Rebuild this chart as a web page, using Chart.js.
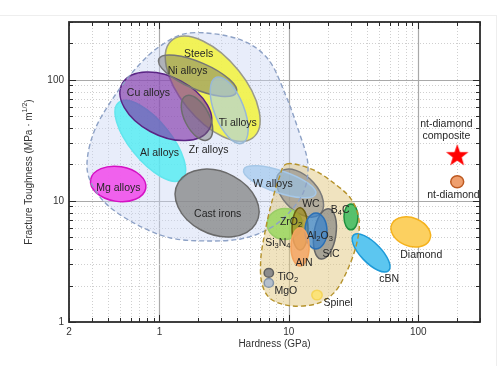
<!DOCTYPE html>
<html>
<head>
<meta charset="utf-8">
<title>Hardness vs fracture toughness</title>
<script src="https://cdn.jsdelivr.net/npm/chart.js@4.4.1/dist/chart.umd.min.js"></script>
<style>
    html, body { margin: 0; padding: 0; background: #fff; }
    #wrap { position: relative; width: 498px; height: 366px; overflow: hidden; }
    #wrap .edge { position: absolute; left: 0; top: 15px; width: 496px; height: 360px; border-top: 1px solid #eeeeee; border-right: 1px solid #eeeeee; }
    canvas { position: absolute; left: 0; top: 0; }
</style>
</head>
<body>
<div id="wrap"><div class="edge"></div><canvas id="chart" width="498" height="366"></canvas></div>
<script>
// material families, in drawing order (back to front)
var materials = ['Al alloys', 'Steels', 'Cu alloys', 'Ni alloys', 'Ti alloys', 'Zr alloys', 'Mg alloys', 'Cast irons',
    'WC', 'W alloys', 'SiC', 'Si3N4', 'ZrO2', 'Al2O3', 'AlN', 'B4C', 'TiO2', 'MgO', 'Spinel', 'cBN', 'Diamond', 'nt-diamond'];
// centre of each bubble: hardness (GPa), fracture toughness (MPa m^1/2)
var hardness = [0.85, 2.58, 1.12, 1.97, 3.46, 1.95, 0.48, 2.79,
    12.2, 8.5, 19.0, 9.3, 12.2, 16.2, 12.2, 30.2, 7.0, 7.0, 16.5, 43.2, 87.5, 200];
var toughness = [31.3, 84.3, 60.4, 108, 56, 48.5, 13.8, 9.6,
    11.6, 14.4, 5.34, 6.45, 5.87, 5.65, 4.17, 7.38, 2.54, 2.10, 1.67, 3.72, 5.54, 14.4];
// half spread of each bubble along its long / short axis (decades) and its tilt (deg, + = rising)
var spreadLong = [0.40, 0.51, 0.385, 0.33, 0.29, 0.20, 0.216, 0.344,
    0.232, 0.296, 0.21, 0.136, 0.174, 0.149, 0.157, 0.107, 0.036, 0.036, 0.04, 0.20, 0.16, 0.05];
var spreadShort = [0.16, 0.25, 0.24, 0.11, 0.115, 0.096, 0.144, 0.255,
    0.136, 0.09, 0.085, 0.128, 0.062, 0.085, 0.07, 0.054, 0.036, 0.036, 0.04, 0.08, 0.116, 0.05];
var tilt = [-53, -53, -30, -25, -70, -65, -10, -30,
    -50, -20, 82, 0, 90, 90, 90, 90, 0, 0, 0, -48, -25, 0];

// nt-diamond composite
var compositeHardness = [200];
var compositeToughness = [24.0];

// outline of the metals and ceramics fields: [hardness, toughness]
var metalsField = [[1.74, 244], [4.03, 218], [6.87, 149], [9.48, 73.8], [11.9, 37.9], [14.0, 20.6], [13.1, 12.1],
    [10.0, 7.96], [7.0, 5.87], [4.25, 4.85], [2.27, 4.67], [1.22, 4.94], [0.675, 6.34], [0.395, 9.27],
    [0.292, 14.6], [0.277, 22.2], [0.319, 39.4], [0.44, 71.0], [0.652, 123], [1.02, 191]];
var ceramicsField = [[9.65, 20.2], [14.8, 18.4], [21.2, 14.6], [30.2, 10.4], [34.9, 6.84], [33.1, 4.25],
    [27.7, 2.54], [22.3, 1.74], [16.2, 1.41], [10.4, 1.36], [7.25, 1.55], [6.18, 2.10], [6.07, 3.32],
    [6.52, 5.44], [7.25, 9.09], [8.37, 15.2]];

// axis ticks
var xRange = [0.2, 300];
var yRange = [1, 300];
var xLabelValues = [0.2, 1, 10, 100];
var xTickLabels = ['2', '1', '10', '100'];
var yLabelValues = [1, 10, 100];
var yTickLabels = ['1', '10', '100'];

(function (window, document) {
    'use strict';

    var FONT = '"Liberation Sans", Arial, sans-serif';

    var bubbleStyle = {
        'Al alloys':  ['rgba(80,236,242,0.8)', '#62e6ee'],
        'Steels':     ['rgba(242,242,70,0.9)', '#9a9a8a'],
        'Cu alloys':  ['rgba(125,45,165,0.62)', '#5a2484'],
        'Ni alloys':  ['rgba(105,105,105,0.45)', '#767676'],
        'Ti alloys':  ['rgba(170,205,235,0.6)', '#98b8d6'],
        'Zr alloys':  ['rgba(110,110,110,0.45)', '#6d6d6d'],
        'Mg alloys':  ['rgba(240,90,236,0.95)', '#d412c4'],
        'Cast irons': ['rgba(128,128,128,0.72)', '#6a6a6a'],
        'WC':         ['rgba(130,130,130,0.55)', '#7a7a7a'],
        'W alloys':   ['rgba(150,195,235,0.6)', '#a6c8e8'],
        'SiC':        ['rgba(128,128,128,0.65)', '#666666'],
        'Si3N4':      ['rgba(150,215,90,0.8)', '#98cc66'],
        'ZrO2':       ['rgba(160,140,30,0.75)', '#6e6010'],
        'Al2O3':      ['rgba(50,130,210,0.7)', '#2a6fb5'],
        'AlN':        ['rgba(245,165,100,0.85)', '#f4a35e'],
        'B4C':        ['rgba(70,190,100,0.9)', '#1f8f3f'],
        'TiO2':       ['#8c8c8c', '#5e5e5e'],
        'MgO':        ['#b4bfcc', '#8494a8'],
        'Spinel':     ['#fbe37a', '#f5d55a'],
        'cBN':        ['#5cc6f0', '#1e9ad8'],
        'Diamond':    ['#fcd060', '#f5b21c'],
        'nt-diamond': ['#ef9f6e', '#bd5a22']
    };

    // where each name is written: [text, hardness, toughness]
    var labelAnchors = [
        ['Steels', 2.01, 164], ['Ni alloys', 1.65, 119], ['Cu alloys', 0.822, 78.1], ['Ti alloys', 4.03, 44.1],
        ['Zr alloys', 2.40, 26.4], ['Al alloys', 1.0, 24.9], ['Mg alloys', 0.481, 12.8], ['Cast irons', 2.82, 7.81],
        ['W alloys', 7.52, 13.8], ['WC', 14.8, 9.44], ['B4C', 24.9, 8.43], ['ZrO2', 10.4, 6.70],
        ['Al2O3', 17.4, 5.14], ['Si3N4', 8.22, 4.50], ['SiC', 21.2, 3.65], ['AlN', 13.1, 3.07],
        ['TiO2', 9.82, 2.35], ['MgO', 9.48, 1.80], ['Spinel', 24.0, 1.44], ['cBN', 59.6, 2.27],
        ['Diamond', 105.5, 3.58], ['nt-diamond', 187, 11.2],
        ['nt-diamond', 165, 43.3], ['composite', 165, 34.4]
    ];

    var starImg = (function () {
        var c = document.createElement('canvas');
        c.width = 26;
        c.height = 26;
        var g = c.getContext('2d');
        g.beginPath();
        for (var i = 0; i < 10; i++) {
            var r = i % 2 ? 4.7 : 11.8;
            var a = -Math.PI / 2 + i * Math.PI / 5;
            g.lineTo(13 + r * Math.cos(a), 14 + r * Math.sin(a));
        }
        g.closePath();
        g.fillStyle = '#ff0000';
        g.fill();
        return c;
    })();

    function logSteps(min, max) {
        var out = [];
        for (var e = -1; e <= 2; e++) {
            for (var m = 1; m < 10; m++) {
                var v = m * Math.pow(10, e);
                if (v >= min * 0.999 && v <= max * 1.001) out.push({ v: v, major: m === 1 });
            }
        }
        return out;
    }

    function fieldPath(ctx, pts) {
        var n = pts.length;
        ctx.beginPath();
        ctx.moveTo(pts[0].x, pts[0].y);
        for (var i = 0; i < n; i++) {
            var p0 = pts[(i - 1 + n) % n], p1 = pts[i], p2 = pts[(i + 1) % n], p3 = pts[(i + 2) % n];
            ctx.bezierCurveTo(p1.x + (p2.x - p0.x) / 6, p1.y + (p2.y - p0.y) / 6,
                p2.x - (p3.x - p1.x) / 6, p2.y - (p3.y - p1.y) / 6, p2.x, p2.y);
        }
        ctx.closePath();
    }

    function drawFormula(ctx, text, x, y, size) {
        var parts = text.split(/(\d)/).filter(function (s) { return s.length; });
        var widths = parts.map(function (p) {
            ctx.font = (/^\d$/.test(p) ? size * 0.72 : size) + 'px ' + FONT;
            return ctx.measureText(p).width;
        });
        var total = widths.reduce(function (a, b) { return a + b; }, 0);
        var cx = x - total / 2;
        ctx.textAlign = 'left';
        ctx.textBaseline = 'middle';
        parts.forEach(function (p, i) {
            var sub = /^\d$/.test(p);
            ctx.font = (sub ? size * 0.72 : size) + 'px ' + FONT;
            ctx.fillText(p, cx, sub ? y + size * 0.3 : y);
            cx += widths[i];
        });
    }

    var mapPlugin = {
        id: 'materialMap',
        beforeDatasetsDraw: function (chart) {
            var ctx = chart.ctx, area = chart.chartArea, xs = chart.scales.x, ys = chart.scales.y;
            var sx = xs.getPixelForValue(10) - xs.getPixelForValue(1);
            var sy = ys.getPixelForValue(1) - ys.getPixelForValue(10);
            var toPx = function (p) { return { x: xs.getPixelForValue(p[0]), y: ys.getPixelForValue(p[1]) }; };

            ctx.save();
            ctx.beginPath();
            ctx.rect(area.left, area.top, area.right - area.left, area.bottom - area.top);
            ctx.clip();

            // grid
            logSteps(xRange[0], xRange[1]).forEach(function (t) {
                var px = Math.round(xs.getPixelForValue(t.v)) + 0.5;
                ctx.beginPath();
                ctx.setLineDash(t.major ? [] : [1, 2]);
                ctx.strokeStyle = t.major ? '#a9a9a9' : '#cfcfcf';
                ctx.lineWidth = t.major ? 1.2 : 1;
                ctx.moveTo(px, area.top);
                ctx.lineTo(px, area.bottom);
                ctx.stroke();
            });
            logSteps(yRange[0], yRange[1]).forEach(function (t) {
                var py = Math.round(ys.getPixelForValue(t.v)) + 0.5;
                ctx.beginPath();
                ctx.setLineDash(t.major ? [] : [1, 2]);
                ctx.strokeStyle = t.major ? '#a9a9a9' : '#cfcfcf';
                ctx.lineWidth = t.major ? 1.2 : 1;
                ctx.moveTo(area.left, py);
                ctx.lineTo(area.right, py);
                ctx.stroke();
            });
            ctx.setLineDash([]);

            var metalPts = metalsField.map(toPx);
            var ceramicPts = ceramicsField.map(toPx);

            fieldPath(ctx, metalPts);
            ctx.fillStyle = 'rgba(200,212,242,0.42)';
            ctx.fill();
            fieldPath(ctx, ceramicPts);
            ctx.fillStyle = 'rgba(226,200,128,0.5)';
            ctx.fill();

            var meta = chart.getDatasetMeta(0);
            materials.forEach(function (name, i) {
                var pt = meta.data[i];
                ctx.save();
                ctx.translate(pt.x, pt.y);
                ctx.scale(sx, -sy);
                ctx.rotate(tilt[i] * Math.PI / 180);
                ctx.beginPath();
                ctx.ellipse(0, 0, spreadLong[i], spreadShort[i], 0, 0, Math.PI * 2);
                ctx.restore();
                ctx.fillStyle = bubbleStyle[name][0];
                ctx.fill();
                ctx.lineWidth = 1.5;
                ctx.strokeStyle = bubbleStyle[name][1];
                ctx.stroke();
            });

            ctx.setLineDash([5, 3]);
            ctx.lineWidth = 1.4;
            fieldPath(ctx, metalPts);
            ctx.strokeStyle = '#8ea2c6';
            ctx.stroke();
            fieldPath(ctx, ceramicPts);
            ctx.strokeStyle = '#b5922a';
            ctx.stroke();
            ctx.restore();
        },
        afterDatasetsDraw: function (chart) {
            var ctx = chart.ctx, area = chart.chartArea, xs = chart.scales.x, ys = chart.scales.y;

            ctx.save();
            ctx.fillStyle = '#262626';
            labelAnchors.forEach(function (l) {
                drawFormula(ctx, l[0], xs.getPixelForValue(l[1]), ys.getPixelForValue(l[2]), 10.5);
            });

            // frame with inward ticks on all four sides
            ctx.strokeStyle = '#2b2b2b';
            ctx.lineWidth = 1;
            logSteps(xRange[0], xRange[1]).forEach(function (t) {
                var px = Math.round(xs.getPixelForValue(t.v)) + 0.5;
                var len = t.major ? 7 : 4;
                ctx.beginPath();
                ctx.moveTo(px, area.bottom);
                ctx.lineTo(px, area.bottom - len);
                ctx.moveTo(px, area.top);
                ctx.lineTo(px, area.top + len);
                ctx.stroke();
            });
            logSteps(yRange[0], yRange[1]).forEach(function (t) {
                var py = Math.round(ys.getPixelForValue(t.v)) + 0.5;
                var len = t.major ? 7 : 4;
                ctx.beginPath();
                ctx.moveTo(area.left, py);
                ctx.lineTo(area.left + len, py);
                ctx.moveTo(area.right, py);
                ctx.lineTo(area.right - len, py);
                ctx.stroke();
            });
            ctx.lineWidth = 1.8;
            ctx.strokeRect(area.left, area.top, area.right - area.left, area.bottom - area.top);

            // y title with superscript
            ctx.translate(29, (area.top + area.bottom) / 2);
            ctx.rotate(-Math.PI / 2);
            ctx.fillStyle = '#333';
            ctx.textBaseline = 'middle';
            ctx.textAlign = 'left';
            var main = 'Fracture Toughness (MPa \u00b7 m', sup = '1/2', tail = ')';
            ctx.font = '10px ' + FONT;
            var w1 = ctx.measureText(main).width, w3 = ctx.measureText(tail).width;
            ctx.font = '7px ' + FONT;
            var w2 = ctx.measureText(sup).width;
            var x0 = -(w1 + w2 + w3) / 2;
            ctx.font = '10px ' + FONT;
            ctx.fillText(main, x0, 0);
            ctx.fillText(tail, x0 + w1 + w2, 0);
            ctx.font = '7px ' + FONT;
            ctx.fillText(sup, x0 + w1, -3.5);
            ctx.restore();
        }
    };

    var points = materials.map(function (m, i) { return { x: hardness[i], y: toughness[i] }; });
    var star = compositeHardness.map(function (h, i) { return { x: h, y: compositeToughness[i] }; });

    new Chart(document.getElementById('chart').getContext('2d'), {
        type: 'scatter',
        data: {
            datasets: [
                { label: 'materials', data: points, pointRadius: 0, pointHoverRadius: 0 },
                { label: 'nt-diamond composite', data: star, pointStyle: starImg, pointRadius: 12 }
            ]
        },
        options: {
            responsive: false,
            animation: false,
            devicePixelRatio: 1,
            events: [],
            layout: { padding: { top: 22, right: 18, left: 0, bottom: 0 } },
            plugins: { legend: { display: false }, tooltip: { enabled: false } },
            scales: {
                x: {
                    type: 'logarithmic',
                    min: xRange[0],
                    max: xRange[1],
                    afterFit: function (s) { s.height = 44; },
                    afterBuildTicks: function (s) { s.ticks = xLabelValues.map(function (v) { return { value: v }; }); },
                    grid: { display: false, drawTicks: false },
                    border: { display: false },
                    ticks: {
                        autoSkip: false, maxRotation: 0, padding: 4, color: '#333',
                        font: { family: FONT, size: 10 },
                        callback: function (v, i) { return xTickLabels[i]; }
                    },
                    title: {
                        display: true, text: 'Hardness (GPa)', color: '#333',
                        font: { family: FONT, size: 10 },
                        padding: { top: 0, bottom: 16 }
                    }
                },
                y: {
                    type: 'logarithmic',
                    min: yRange[0],
                    max: yRange[1],
                    afterFit: function (s) { s.width = 69; },
                    afterBuildTicks: function (s) { s.ticks = yLabelValues.map(function (v) { return { value: v }; }); },
                    grid: { display: false, drawTicks: false },
                    border: { display: false },
                    ticks: {
                        autoSkip: false, padding: 5, color: '#333',
                        font: { family: FONT, size: 10 },
                        callback: function (v, i) { return yTickLabels[i]; }
                    }
                }
            }
        },
        plugins: [mapPlugin]
    });
})(window, document);
</script>
</body>
</html>
